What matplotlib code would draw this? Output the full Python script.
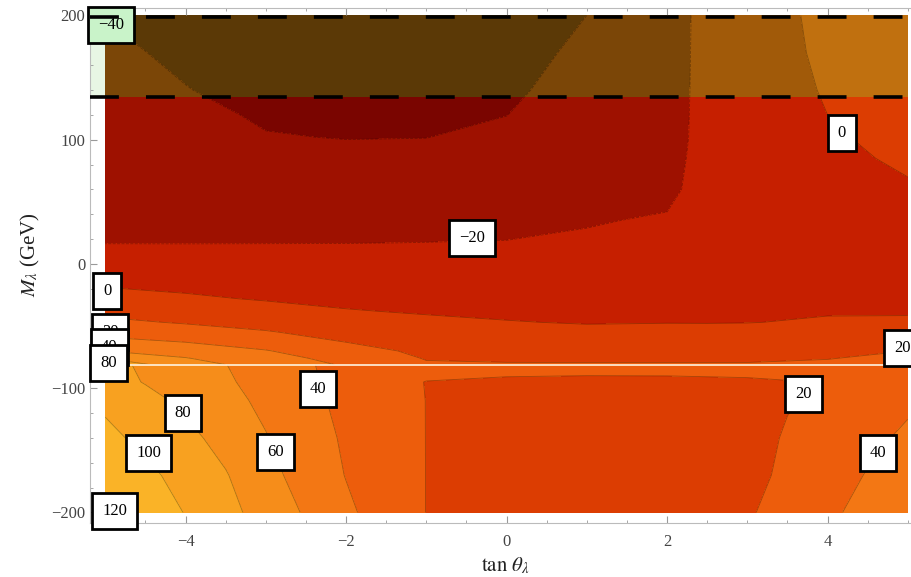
import numpy as np
import matplotlib.pyplot as plt
from matplotlib.patches import Rectangle

plt.rcParams['font.family'] = ['Liberation Serif', 'DejaVu Serif']
plt.rcParams['mathtext.fontset'] = 'stix'

# contour levels and fill colours (Mathematica-like sunset palette)
levels = [-60, -40, -20, 0, 20, 40, 60, 80, 100, 120, 140]
base_colors = ['#7a0500', '#9e1100', '#c61f00', '#dc3d02', '#ed5d0c',
               '#f37714', '#f68d1a', '#f8a120', '#fab327', '#fbc32e']
band_colors = ['#5b3906', '#7b4607', '#a15a09', '#c0700f', '#cc8016',
               '#d08a1a', '#d49520', '#d8a025', '#dcaa2a', '#e0b430']

# upper branch (M > -81 GeV)
x_up = [-5, -4, -3, -2, -1, 0, 1, 2, 2.5, 3, 4, 5]
y_up = [-81, -76, -70, -63, -55, -47, -38, -28, -15, 0, 17, 35, 60, 85,
        102, 120, 140, 170, 200]
z_up = [
    [95, 68, 52, 38, 22, 21, 21, 21, 21, 21, 23, 28],
    [80, 61, 47, 34, 19, 18.2, 18, 18, 18, 18, 19.4, 24.6],
    [60, 52, 41, 28, 15.6, 14.5, 13.8, 14, 14, 14, 15.6, 20],
    [46, 40, 32, 20, 11.7, 10.3, 9, 9.3, 9.5, 9.5, 11.3, 14.6],
    [34, 28.6, 21.3, 13.8, 7.2, 5.5, 3.4, 4, 4.2, 4.5, 6.3, 8.5],
    [24, 18.4, 14, 7.7, 2.8, 0.6, -0.8, -0.4, -0.5, -0.3, 1.3, 2.3],
    [15, 10.8, 6.1, 0.8, -1.3, -2.5, -3.2, -2.4, -2.5, -2, -1, -1.5],
    [6.7, 2.5, -1.3, -3.3, -4.7, -5.5, -5.9, -4.6, -4.5, -3.5, -2.5, -3],
    [-2.8, -4.9, -6.7, -8.1, -9, -9.5, -9.3, -7.5, -7, -5.5, -4, -4],
    [-11.1, -12.2, -13, -13.7, -14, -14.2, -13.3, -10.8, -9, -7, -4.5, -4],
    [-20.4, -20.4, -20.3, -20.2, -19.9, -19.6, -17.9, -14.5, -11, -8, -4.5, -3.5],
    [-22.1, -22.9, -24, -24.2, -24, -23.2, -21.1, -18.5, -12, -8.5, -4, -2.5],
    [-24.8, -26.7, -29.3, -30.1, -29.9, -28.2, -24, -24, -13, -9, -3, -0.8],
    [-27.5, -30.5, -34.7, -36, -35.8, -33.2, -26.9, -26, -13.5, -9, -1.8, 1.2],
    [-29.3, -33, -39.2, -40.5, -40.2, -36.6, -28.8, -27, -14, -9, -1, 2.5],
    [-31.3, -35.8, -42, -44, -43.5, -40.2, -30.9, -27.5, -14, -8.5, 0, 4],
    [-33.5, -39.5, -45, -47, -46.5, -43, -33.1, -28, -14, -8, 1.2, 5.5],
    [-36.7, -43, -48, -50, -49.5, -46, -36.6, -28.5, -14, -7, 2.5, 7.5],
    [-40.5, -46, -50, -52, -51, -48, -40, -29, -14, -6, 3, 9],
]

# lower branch (M < -81 GeV)
x_lo = [-5, -4.5, -4, -3.5, -3, -2.5, -2, -1.5, -1, 0, 1, 2, 3, 3.5, 4, 4.5, 5]
y_lo = [-200, -170, -140, -110, -95, -88, -81]
z_lo = [
    [124, 112, 99.2, 86, 72, 58, 43.5, 31.4, 19.8, 12, 10, 11, 18, 27, 37, 45, 52],
    [116, 104.6, 93, 81.2, 66.2, 52.2, 39.4, 29.7, 19.8, 12, 10, 11, 17, 22, 32, 41, 48],
    [105, 95, 85, 73.7, 61, 48.8, 37.5, 28.8, 19.8, 12, 10, 11, 16, 21, 29, 36, 43],
    [96, 86, 76, 66, 55.7, 44.8, 35.6, 27.8, 19.8, 13, 11, 12, 16.5, 19.3, 22, 28, 37],
    [88, 79, 70.8, 62.5, 53.1, 43.2, 34.7, 27, 19.5, 17, 16, 16.5, 18, 19.4, 21.5, 25, 31],
    [87, 78, 69.5, 61.3, 52.8, 42.5, 34, 28, 24, 22, 21.5, 21.5, 22, 22.5, 23.5, 26, 30],
    [86, 77, 69, 60.3, 52, 42, 33.5, 28.5, 25, 23, 22.5, 22.5, 23, 23.5, 24.5, 27, 30],
]

# contour labels
lab_text = ['\u221240', '0', '\u221220', '0', '20', '40', '80', '80', '100',
            '60', '40', '120', '20', '40', '20']
lab_x = [-4.93, 4.18, -0.43, -4.975, -4.94, -4.95, -4.96, -4.03, -4.46,
         -2.88, -2.35, -4.88, 3.70, 4.63, 4.93]
lab_y = [192, 105, 21, -22, -55, -67, -80, -120, -152,
         -151, -101, -199, -105, -152, -68]

band_lo, band_hi = 134, 200
m_split = -81

fig = plt.figure(figsize=(9.11, 5.77), dpi=100)
ax = fig.add_axes([90/911, 54/577, 821/911, 515/577])

Xu, Yu = np.meshgrid(x_up, y_up)
Xl, Yl = np.meshgrid(x_lo, y_lo)
Zu = np.array(z_up)
Zl = np.array(z_lo)

ax.contourf(Xu, Yu, Zu, levels=levels, colors=base_colors, zorder=1)
ax.contourf(Xl, Yl, Zl, levels=levels, colors=base_colors, zorder=1)

# darkened band between the dashed lines
cs_band = ax.contourf(Xu, Yu, Zu, levels=levels, colors=band_colors, zorder=1.2)
clip = Rectangle((-5, band_lo), 10, band_hi - band_lo, transform=ax.transData)
cs_band.set_clip_path(clip)
ax.add_patch(Rectangle((-5.19, band_lo), 0.19, band_hi - band_lo - 2,
                       facecolor='#e8f6e4', edgecolor='none', zorder=1.1))

ax.contour(Xu, Yu, Zu, levels=levels, colors='k', linewidths=0.6,
           alpha=0.3, zorder=2)
ax.contour(Xl, Yl, Zl, levels=levels, colors='k', linewidths=0.6,
           alpha=0.3, zorder=2)

ax.axhline(m_split, color='#fff4e0', lw=1.2, zorder=2.5)

for i in range(len(lab_text)):
    fc = '#c9f3c9' if i == 0 else 'white'
    ax.text(lab_x[i], lab_y[i], lab_text[i], fontsize=12, ha='center',
            va='center', zorder=4, clip_on=False,
            bbox=dict(boxstyle='square,pad=0.6', facecolor=fc,
                      edgecolor='black', linewidth=2))

for yy in [band_hi - 1.5, band_lo]:
    ax.plot([-5.19, 5.04], [yy, yy], color='black', lw=2.6,
            dashes=(8, 7.5), zorder=5, solid_capstyle='butt')

ax.set_xlim(-5.19, 5.04)
ax.set_ylim(-208.5, 206)
ax.set_xticks([-4, -2, 0, 2, 4])
ax.set_xticks(np.arange(-5, 5.01, 0.5), minor=True)
ax.set_yticks([-200, -100, 0, 100, 200])
ax.set_yticks(np.arange(-200, 201, 20), minor=True)
ax.tick_params(which='both', direction='in', colors='#999999',
               labelcolor='#444444', labelsize=12, top=True, right=False)
ax.tick_params(which='major', length=5)
ax.tick_params(which='minor', length=2.5)
ax.tick_params(axis='x', pad=8)
for side in ['left', 'bottom', 'top']:
    ax.spines[side].set_color('#bbbbbb')
    ax.spines[side].set_linewidth(0.8)
ax.spines['right'].set_visible(False)

fig.text(505/911, 1 - 566/577, r'$\tan\,\theta_\lambda$', fontsize=15,
         ha='center', va='center', color='#222222')
fig.text(30/911, 1 - 255/577, r'$M_\lambda$ (GeV)', fontsize=15,
         ha='center', va='center', rotation=90, color='#222222')

fig.savefig('out.png', dpi=100)
